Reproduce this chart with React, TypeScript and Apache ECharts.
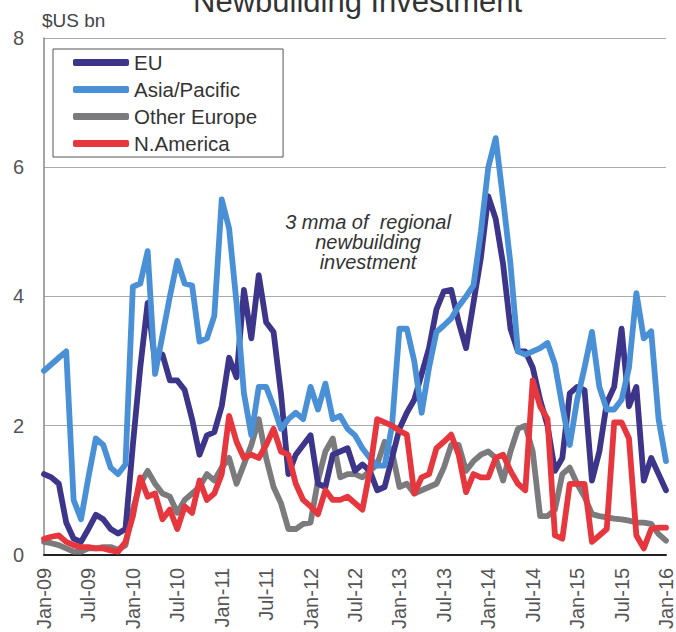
import React, { useEffect, useRef } from "react";
import * as echarts from "echarts";

const MONTHS = ["Jan", "Feb", "Mar", "Apr", "May", "Jun", "Jul", "Aug", "Sep", "Oct", "Nov", "Dec"];
const YEARS = ["09", "10", "11", "12", "13", "14", "15", "16"];
const categories: string[] = [];
YEARS.forEach((y, yi) => {
  MONTHS.forEach((m, mi) => {
    if (yi < YEARS.length - 1 || mi === 0) categories.push(`${m}-${y}`);
  });
});

const EU = [
  1.25, 1.2, 1.1, 0.5, 0.25, 0.2, 0.4, 0.62, 0.55, 0.4, 0.33, 0.4,
  1.7, 2.9, 3.9, 3.0, 3.1, 2.7, 2.7, 2.55, 2.1, 1.55, 1.85, 1.9,
  2.3, 3.05, 2.75, 4.1, 3.35, 4.33, 3.6, 3.45, 2.5, 1.25, 1.55, 1.7,
  1.85, 1.1, 1.05, 1.55, 1.6, 1.65, 1.3, 1.4, 1.3, 1.0, 1.05, 1.5,
  1.95, 2.2, 2.4, 2.8, 3.2, 3.8, 4.08, 4.1, 3.6, 3.2, 3.9, 4.6,
  5.55, 5.2, 4.5, 3.5, 3.15, 3.15, 2.9, 2.4, 2.0, 1.3, 1.5, 2.5,
  2.6, 2.55, 1.15, 1.6, 2.35, 2.6, 3.5, 2.3, 2.6, 1.15, 1.5, 1.25,
  1.0,
];

const ASIA_PACIFIC = [
  2.85, 2.95, 3.05, 3.15, 0.85, 0.55, 1.2, 1.8, 1.7, 1.35, 1.25, 1.4,
  4.15, 4.2, 4.7, 2.8, 3.4, 4.0, 4.55, 4.2, 4.17, 3.3, 3.35, 3.7,
  5.5, 5.05, 3.9, 2.5, 1.85, 2.6, 2.6, 2.3, 1.95, 2.1, 2.2, 2.1,
  2.6, 2.25, 2.65, 2.1, 2.15, 1.95, 1.85, 1.65, 1.5, 1.38, 1.38, 2.0,
  3.5, 3.5, 3.0, 2.2, 2.9, 3.45, 3.55, 3.66, 3.85, 4.0, 4.17, 5.0,
  6.0, 6.45, 5.5, 4.5, 3.15, 3.1, 3.15, 3.2, 3.28, 2.95, 2.3, 1.7,
  2.4, 2.9, 3.45, 2.6, 2.25, 2.25, 2.4, 2.9, 4.05, 3.35, 3.46, 2.1,
  1.45,
];

const OTHER_EUROPE = [
  0.2, 0.18, 0.15, 0.1, 0.05, 0.05, 0.1, 0.1, 0.12, 0.12, 0.08, 0.15,
  0.7, 1.1, 1.3, 1.1, 0.95, 0.9, 0.65, 0.85, 0.95, 1.05, 1.25, 1.15,
  1.35, 1.5, 1.1, 1.4, 1.7, 2.1, 1.5, 1.05, 0.8, 0.4, 0.4, 0.48,
  0.5, 1.15, 1.6, 1.8, 1.2, 1.25, 1.25, 1.2, 1.3, 1.4, 1.75, 1.6,
  1.05, 1.1, 0.95, 1.0, 1.05, 1.1, 1.35, 1.7, 1.7, 1.3, 1.45, 1.55,
  1.6, 1.5, 1.15, 1.6, 1.95, 2.0, 1.6, 0.6, 0.6, 0.7, 1.25, 1.35,
  1.1, 0.9, 0.63, 0.6, 0.58, 0.56, 0.55, 0.53, 0.5, 0.5, 0.48, 0.32,
  0.22,
];

const N_AMERICA = [
  0.25, 0.28, 0.3, 0.2, 0.15, 0.12, 0.12, 0.1, 0.1, 0.07, 0.05, 0.2,
  0.6, 1.2, 0.9, 0.95, 0.55, 0.7, 0.4, 0.75, 0.65, 1.15, 0.85, 0.95,
  1.25, 2.15, 1.75, 1.5, 1.55, 1.5, 1.7, 1.95, 1.6, 1.55, 1.1, 0.85,
  0.75, 0.63, 1.0, 0.85, 0.85, 0.9, 0.8, 0.7, 1.3, 2.1, 2.05, 2.0,
  1.92, 1.86, 0.95, 1.2, 1.25, 1.65, 1.75, 1.86, 1.55, 0.97, 1.25, 1.2,
  1.2, 1.5, 1.55, 1.3, 1.1, 1.0, 2.7, 2.3, 2.1, 0.3, 0.25, 1.1,
  1.1, 1.1, 0.2, 0.3, 0.4, 2.05, 2.05, 1.8, 0.3, 0.1, 0.4, 0.42,
  0.42,
];

const LEGEND_ORDER = ["EU", "Asia/Pacific", "Other Europe", "N.America"];
const NOTE = "3 mma of  regional\nnewbuilding\ninvestment";

const FONT = "'Liberation Sans', Arial, Helvetica, sans-serif";

function lineSeries(name: string, data: number[], color: string) {
  return {
    name,
    type: "line",
    data,
    symbol: "none",
    color,
    itemStyle: { color },
    lineStyle: { color, width: 5.8, cap: "round", join: "round" },
  };
}

export default function App() {
  const ref = useRef<HTMLDivElement>(null);
  useEffect(() => {
    if (!ref.current) return;
    const chart = echarts.init(ref.current, undefined, { renderer: "svg" });
    chart.setOption({
      animation: false,
      backgroundColor: "#ffffff",
      textStyle: { fontFamily: FONT },
      title: {
        text: "Newbuilding Investment",
        left: 188,
        top: -19,
        textStyle: { fontSize: 31, fontWeight: "normal", color: "#333", fontFamily: FONT },
      },
      grid: { left: 44, right: 10, top: 38, bottom: 74 },
      legend: {
        data: LEGEND_ORDER,
        orient: "vertical",
        left: 53,
        top: 49,
        padding: [3, 26, 3, 20],
        itemGap: 6,
        itemWidth: 56,
        itemHeight: 7,
        icon: "roundRect",
        borderColor: "#555",
        borderWidth: 1,
        textStyle: { fontSize: 20.5, color: "#333", lineHeight: 20, fontFamily: FONT },
      },
      xAxis: {
        type: "category",
        data: categories,
        boundaryGap: false,
        axisLine: { lineStyle: { color: "#222", width: 2 } },
        axisTick: { show: false },
        splitLine: { show: false },
        axisLabel: {
          interval: 5,
          rotate: 90,
          margin: 13,
          fontSize: 20,
          color: "#555",
          fontFamily: FONT,
        },
      },
      yAxis: {
        type: "value",
        min: 0,
        max: 8,
        interval: 2,
        name: "$US bn",
        nameLocation: "end",
        nameGap: 8,
        nameTextStyle: { align: "left", fontSize: 19, color: "#444", fontFamily: FONT, padding: [0, 0, 0, -2] },
        axisLine: { show: true, lineStyle: { color: "#888", width: 1.5 } },
        axisTick: { show: false },
        splitLine: { lineStyle: { color: "#aaa", width: 1 } },
        axisLabel: { fontSize: 20, color: "#555", margin: 20, fontFamily: FONT },
      },
      graphic: [
        {
          type: "text",
          x: 368,
          y: 212,
          style: {
            text: NOTE,
            align: "center",
            verticalAlign: "top",
            fontSize: 20,
            fontStyle: "italic",
            lineHeight: 20,
            fill: "#333",
            fontFamily: FONT,
          },
        },
      ],
      series: [
        lineSeries("Other Europe", OTHER_EUROPE, "#7b7b7e"),
        lineSeries("EU", EU, "#3c358a"),
        lineSeries("Asia/Pacific", ASIA_PACIFIC, "#4a90d6"),
        lineSeries("N.America", N_AMERICA, "#e5373d"),
      ],
    });
    return () => chart.dispose();
  }, []);
  return (
    <div
      ref={ref}
      style={{ position: "fixed", left: 0, top: 0, width: 676, height: 632, background: "#fff" }}
    />
  );
}
